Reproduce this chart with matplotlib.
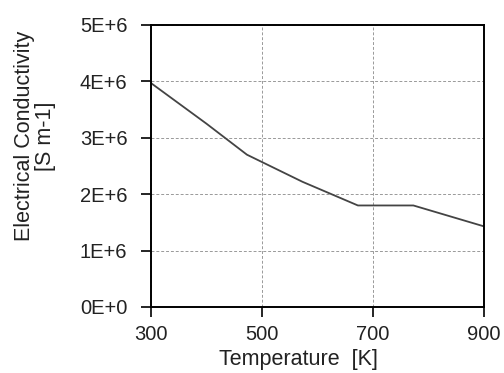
import matplotlib
matplotlib.use("Agg")
import matplotlib.pyplot as plt

temperature = [300, 400, 473, 573, 673, 773, 900]
conductivity = [3.97e6, 3.25e6, 2.70e6, 2.22e6, 1.80e6, 1.80e6, 1.43e6]
xticks = [300, 500, 700, 900]
yticks = [0, 1e6, 2e6, 3e6, 4e6, 5e6]
ytick_labels = ["0E+0", "1E+6", "2E+6", "3E+6", "4E+6", "5E+6"]

plt.rcParams['font.family'] = ['Liberation Sans', 'DejaVu Sans']

fig = plt.figure(figsize=(5.04, 3.73), dpi=100)
ax = fig.add_axes([0.2996, 0.177, 0.6604, 0.756])
ax.plot(temperature, conductivity, color='#444444', lw=1.3)
ax.set_xlim(300, 900)
ax.set_ylim(0, 5e6)
ax.set_xticks(xticks)
ax.set_xticklabels([str(t) for t in xticks])
ax.set_yticks(yticks)
ax.set_yticklabels(ytick_labels)
ax.grid(True, color='#999999', ls=(0, (3, 2)), lw=0.7)
for s in ax.spines.values():
    s.set_linewidth(1.4)
    s.set_color('black')
ax.tick_params(direction='out', length=7, width=1.2, labelsize=14.5, colors='black',
               labelcolor='#222222')
ax.tick_params(axis='y', pad=10)
ax.tick_params(axis='x', pad=6)
fig.text(298 / 504, 1 - 360 / 373, "Temperature  [K]", fontsize=15.5,
         ha='center', va='center', color='#222222')
fig.text(35 / 504, 1 - 136 / 373, "Electrical Conductivity\n[S m-1]", fontsize=15.5,
         ha='center', va='center', rotation=90, linespacing=1.0, color='#222222')
fig.savefig("out.png", dpi=100)
